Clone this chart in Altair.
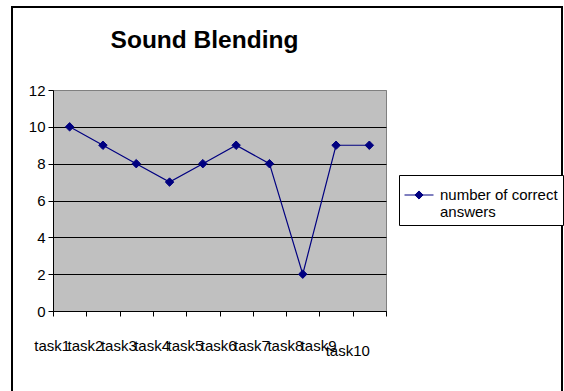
import altair as alt
import pandas as pd

tasks = ["task1", "task2", "task3", "task4", "task5",
         "task6", "task7", "task8", "task9", "task10"]
correct = [10, 9, 8, 7, 8, 9, 8, 2, 9, 9]
series_name = "number of correct answers"
title_text = "Sound Blending"
y_ticks = [0, 2, 4, 6, 8, 10, 12]

df = pd.DataFrame({"task": tasks, "correct": correct, "series": series_name})
frame_df = pd.DataFrame({"frame": [0]})

NAVY = "#000080"
FONT = "Liberation Sans"
W, H = 333, 221

x_enc = alt.X(
    "task:N", sort=tasks, title=None,
    scale=alt.Scale(type="band", paddingInner=0, paddingOuter=0),
    axis=alt.Axis(
        labelAngle=0, tickBand="extent", labelAlign="right", labelOffset=0,
        labelBaseline="alphabetic", labelPadding=34, labelLineHeight=5,
        labelExpr="datum.value == 'task10' ? ['', datum.value] : datum.value",
        labelFontSize=15, labelFont=FONT, labelColor="black",
        tickSize=5, tickColor="black", domainColor="black",
        labelOverlap=False, grid=False,
    ),
)
y_enc = alt.Y(
    "correct:Q", title=None,
    scale=alt.Scale(domain=[0, 12], nice=False, zero=True),
    axis=alt.Axis(
        values=y_ticks, labelFontSize=15, labelFont=FONT, labelColor="black",
        tickSize=5, tickColor="black", domainColor="black", labelPadding=3,
        grid=True, gridWidth=1,
        gridColor={"condition": {"test": "datum.value === 12", "value": "#808080"},
                   "value": "black"},
    ),
)

line = alt.Chart(df).mark_line(color=NAVY, strokeWidth=1.2).encode(x=x_enc, y=y_enc)

points = alt.Chart(df).mark_point(
    shape="diamond", size=72, filled=True, opacity=1, stroke=NAVY, strokeWidth=1
).encode(
    x=x_enc, y=y_enc,
    color=alt.Color(
        "series:N",
        scale=alt.Scale(range=[NAVY]),
        legend=alt.Legend(
            title=None, orient="none", legendX=346, legendY=85,
            strokeColor="black", fillColor="white", padding=5, cornerRadius=0,
            symbolType="M-1,0H1M-0.28,0L0,-0.28L0.28,0L0,0.28Z",
            symbolSize=841, symbolStrokeWidth=1, symbolStrokeColor=NAVY,
            symbolFillColor=NAVY,
            labelFontSize=15, labelFont=FONT, labelColor="black", labelLimit=0,
            labelOffset=6,
            labelExpr="['number of correct', 'answers']",
        ),
    ),
)

frame = alt.Chart(frame_df).mark_rect(
    filled=False, stroke="black", strokeWidth=2
).encode(
    x=alt.value(-41), x2=alt.value(509), y=alt.value(-83), y2=alt.value(310)
)

chart = alt.layer(frame, line, points).properties(
    width=W, height=H,
    title=alt.TitleParams(
        title_text, fontSize=24.5, font=FONT, fontWeight="bold", color="black",
        anchor="middle", dx=-15, offset=0, dy=66, baseline="alphabetic",
    ),
    autosize=alt.AutoSizeParams(type="none"),
    padding={"left": 53, "top": 90, "right": 178, "bottom": 80},
    background="white",
).configure_view(
    fill="#C0C0C0", stroke="#808080", strokeWidth=1
)

chart.save("out.html", embed_options={"renderer": "svg", "actions": False})
